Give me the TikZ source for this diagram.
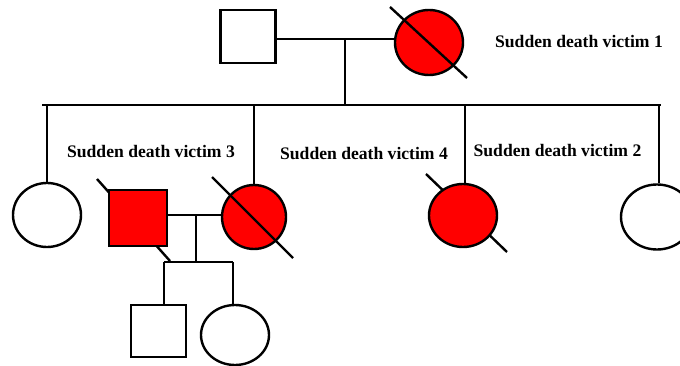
\documentclass[tikz,border=0pt]{standalone}
\usepackage{fontspec}
\setmainfont{Liberation Serif}
\usetikzlibrary{shapes.geometric}
\begin{document}
\begin{tikzpicture}[x=1pt,y=-1pt,
  ln/.style={line width=2.4pt},
  sq/.style={draw,ln,rectangle,inner sep=0pt},
  ci/.style={draw,ln,ellipse,inner sep=0pt},
  aff/.style={fill=red},
  lbl/.style={font=\fontsize{17.6}{20}\selectfont\bfseries,anchor=base,inner sep=0pt}]
\useasboundingbox (0,0) rectangle (680,366);
% slashes drawn behind fill
\coordinate (s3a) at (97,179); \coordinate (s3b) at (170,261);
\coordinate (s4a) at (426,174); \coordinate (s4b) at (507,252);
\draw[ln] (s3a) -- (s3b);
\draw[ln] (s4a) -- (s4b);
% generation I
\node[sq,minimum width=55pt,minimum height=53pt] (f1) at (248,36.5) {};
\node[ci,aff,minimum width=68pt,minimum height=65pt] (v1) at (429,42.5) {};
\coordinate (m1) at (345,39);
\coordinate (s1) at (345,105);
\draw[ln] (f1.east |- m1) -- (v1.west |- m1);
\draw[ln] (m1) -- (s1);
% sibship
\coordinate (sl) at (42,105);
\coordinate (sr) at (661,105);
\draw[ln] (sl) -- (sr);
% generation II
\node[ci,minimum width=68pt,minimum height=64pt] (c1) at (47,215) {};
\node[sq,aff,minimum width=58pt,minimum height=56pt] (v3) at (138,218) {};
\node[ci,aff,minimum width=64pt,minimum height=64pt] (w3) at (254,217) {};
\node[ci,aff,minimum width=68pt,minimum height=63pt] (v4) at (463,215.5) {};
\node[ci,minimum width=72pt,minimum height=65pt] (c2) at (657,217) {};
\coordinate (d1) at (47,105);
\coordinate (d2) at (254,105);
\coordinate (d3) at (465,105);
\coordinate (d4) at (659,105);
\draw[ln] (d1) -- (c1.north);
\draw[ln] (d2) -- (w3.north);
\draw[ln] (d3) -- (d3 |- v4.north);
\draw[ln] (d4) -- (d4 |- c2.north);
% slash on top for victim 1 and w3
\coordinate (s1a) at (390,7); \coordinate (s1b) at (467,78);
\coordinate (s2a) at (212,177); \coordinate (s2b) at (293,258);
\draw[ln] (s1a) -- (s1b);
\draw[ln] (s2a) -- (s2b);
% marriage of victim 3
\coordinate (m2) at (196,215);
\coordinate (m2b) at (196,262);
\draw[ln] (v3.east |- m2) -- (w3.west |- m2);
\draw[ln] (m2) -- (m2b);
\coordinate (g3l) at (164,262);
\coordinate (g3r) at (233,262);
\draw[ln] (g3l) -- (g3r);
% generation III
\node[sq,minimum width=55pt,minimum height=52pt] (k1) at (158.5,331) {};
\node[ci,minimum width=68pt,minimum height=60pt] (k2) at (235,335) {};
\draw[ln] (g3l) -- (g3l |- k1.north);
\draw[ln] (g3r) -- (g3r |- k2.north);
% labels
\node[lbl] (t1) at (579,48) {Sudden death victim 1};
\node[lbl] (t3) at (151,158) {Sudden death victim 3};
\node[lbl] (t4) at (364,160) {Sudden death victim 4};
\node[lbl] (t2) at (557.5,157) {Sudden death victim 2};
\end{tikzpicture}
\end{document}
